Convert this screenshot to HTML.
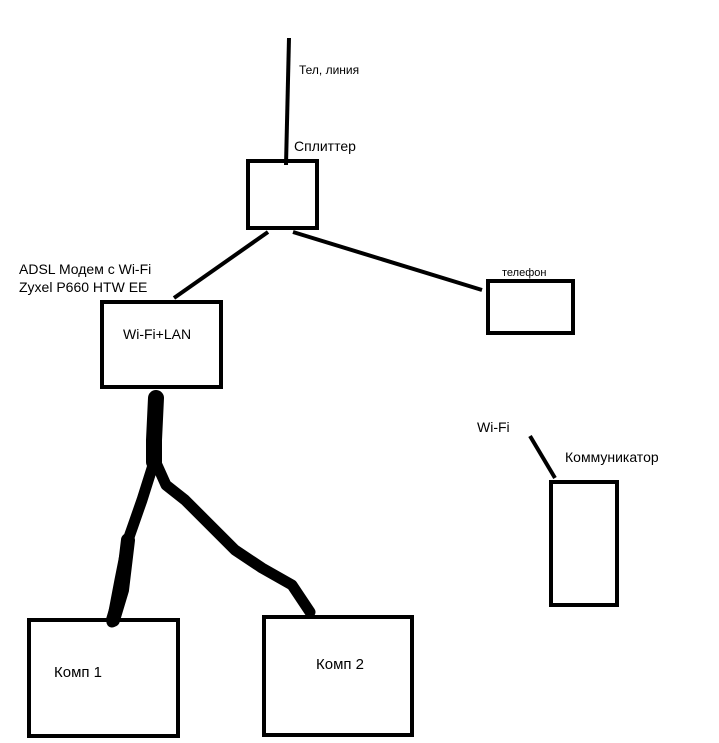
<!DOCTYPE html>
<html><head><meta charset="utf-8"><style>body{margin:0;background:#fff}svg{display:block}text{font-family:"Liberation Sans",sans-serif;fill:#000}</style></head>
<body>
<svg width="719" height="743" viewBox="0 0 719 743" xmlns="http://www.w3.org/2000/svg">
<g fill="none" stroke="#000" stroke-width="4">
<rect x="248" y="161" width="69" height="67"/>
<rect x="102" y="302" width="119" height="85"/>
<rect x="488" y="281" width="85" height="52"/>
<rect x="551" y="482" width="66" height="123"/>
<rect x="29" y="620" width="149" height="116"/>
<rect x="264" y="617" width="148" height="118"/>
<line x1="289" y1="38" x2="286" y2="165"/>
<line x1="268" y1="232" x2="174" y2="298"/>
<line x1="293" y1="232" x2="482" y2="290"/>
<line x1="530" y1="436" x2="555" y2="478"/>
</g>
<g fill="none" stroke="#000" stroke-linecap="round" stroke-linejoin="round">
<path d="M156 398 L154 440 L154 462" stroke-width="16"/>
<path d="M154 462 L142 500 L128 540 L120 580 L112 622" stroke-width="11"/>
<path d="M128 540 L122 590 L113 620" stroke-width="14"/>
<path d="M157 465 L166 485 L185 500 L205 520 L235 550 L262 568 L292 585 L310 612" stroke-width="11"/>
</g>
<text x="299" y="74" font-size="12">Тел, линия</text>
<text x="294" y="151" font-size="14">Сплиттер</text>
<text x="19" y="274" font-size="14">ADSL Модем с Wi-Fi</text>
<text x="19" y="292" font-size="14">Zyxel P660 HTW EE</text>
<text x="123" y="339" font-size="14">Wi-Fi+LAN</text>
<text x="502" y="276" font-size="11">телефон</text>
<text x="477" y="432" font-size="14">Wi-Fi</text>
<text x="565" y="462" font-size="14">Коммуникатор</text>
<text x="54" y="677" font-size="15">Комп 1</text>
<text x="316" y="669" font-size="15">Комп 2</text>
</svg>
</body></html>
